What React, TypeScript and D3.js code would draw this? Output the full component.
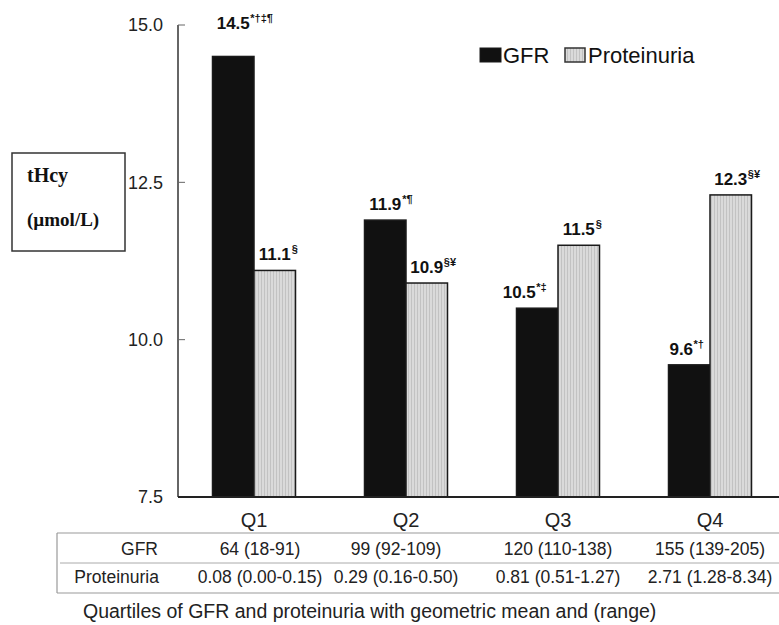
import React from 'react';
import * as d3 from 'd3';

// quartile groups and the two series (tHcy, µmol/L)
const quartiles = ['Q1', 'Q2', 'Q3', 'Q4'];
const seriesNames = ['GFR', 'Proteinuria'];
const gfrValues = [14.5, 11.9, 10.5, 9.6];
const protValues = [11.1, 10.9, 11.5, 12.3];
const gfrMarks = ['*†‡¶', '*¶', '*‡', '*†'];
const protMarks = ['§', '§¥', '§', '§¥'];

// table under the axis
const gfrRanges = ['64 (18-91)', '99 (92-109)', '120 (110-138)', '155 (139-205)'];
const protRanges = ['0.08 (0.00-0.15)', '0.29 (0.16-0.50)', '0.81 (0.51-1.27)', '2.71 (1.28-8.34)'];

const yTicks = [7.5, 10.0, 12.5, 15.0];

const SANS = '"Liberation Sans", Arial, sans-serif';
const SERIF = '"Liberation Serif", "Times New Roman", serif';

export default function App() {
    const width = 779;
    const height = 625;

    const y = d3.scaleLinear().domain([7.5, 15]).range([497, 25]);
    const x = d3.scaleBand().domain(quartiles).range([178, 786]).paddingInner(0);
    const xInner = d3.scaleBand().domain(seriesNames).range([34.5, 117.5]);

    const bars = quartiles.flatMap((q, i) => [
        { q, s: 'GFR', v: gfrValues[i], mark: gfrMarks[i] },
        { q, s: 'Proteinuria', v: protValues[i], mark: protMarks[i] },
    ]);

    // rough width of a bold 17px number, so the superscript can follow it
    const numWidth = (t: string) => t.split('').reduce((w, c) => w + (c === '.' ? 4.7 : 9.45), 0);

    const y0 = y(7.5);
    const yTop = y(15);

    return (
        <svg width={width} height={height} style={{ position: 'absolute', left: 0, top: 0, background: 'white' }}>
            <defs>
                <pattern id="stripes" width="3" height="4" patternUnits="userSpaceOnUse">
                    <rect width="3" height="4" fill="#dadada" />
                    <line x1="0.5" y1="0" x2="0.5" y2="4" stroke="#c2c2c2" strokeWidth="1" />
                </pattern>
            </defs>

            {/* y axis label box */}
            <rect x={12} y={153} width={113} height={98} fill="white" stroke="#333" strokeWidth={1.5} />
            <text x={27} y={182} fontFamily={SERIF} fontWeight="bold" fontSize={20} fill="#111">tHcy</text>
            <text x={27} y={226} fontFamily={SERIF} fontWeight="bold" fontSize={19} fill="#111">(µmol/L)</text>

            {/* y axis */}
            <line x1={178} y1={yTop} x2={178} y2={y0} stroke="#333" strokeWidth={1.5} />
            {yTicks.map(t => (
                <g key={t}>
                    <line x1={178} x2={185} y1={y(t)} y2={y(t)} stroke="#666" strokeWidth={1} />
                    <text x={163} y={y(t)} dy="0.35em" textAnchor="end" fontFamily={SANS} fontSize={18} fill="#222">
                        {t.toFixed(1)}
                    </text>
                </g>
            ))}

            {/* bars */}
            {bars.map(b => {
                const bx = (x(b.q) as number) + (xInner(b.s) as number);
                const bw = xInner.bandwidth();
                return (
                    <rect key={b.q + b.s} x={bx} y={y(b.v)} width={bw} height={y0 - y(b.v)}
                        fill={b.s === 'GFR' ? '#111' : 'url(#stripes)'} stroke="#1a1a1a" strokeWidth={1.5} />
                );
            })}

            {/* value labels */}
            {bars.map(b => {
                const cx = (x(b.q) as number) + (xInner(b.s) as number) + xInner.bandwidth() / 2;
                const t = b.v.toFixed(1);
                const ly = b.v > 14 ? yTop + 4 : y(b.v) - 10;
                const half = numWidth(t) / 2;
                // GFR labels in the upper quartiles sit a little left of their bars
                const shift = b.s === 'GFR' && b.q === 'Q3' ? -18 : b.s === 'GFR' && b.q === 'Q4' ? -8 : 0;
                return (
                    <g key={'l' + b.q + b.s} fontFamily={SANS} fontWeight="bold" fill="#111">
                        <text x={cx + shift} y={ly} textAnchor="middle" fontSize={17}>{t}</text>
                        <text x={cx + shift + half + 0.5} y={ly - 7} fontSize={11}>{b.mark}</text>
                    </g>
                );
            })}

            {/* x axis baseline */}
            <line x1={178} x2={779} y1={y0} y2={y0} stroke="#222" strokeWidth={2} />
            {quartiles.map(q => (
                <text key={q} x={(x(q) as number) + x.bandwidth() / 2} y={527} textAnchor="middle"
                    fontFamily={SANS} fontSize={20} fill="#222">{q}</text>
            ))}

            {/* legend */}
            <rect x={480} y={48} width={21} height={14} fill="#111" stroke="#1a1a1a" strokeWidth={1} />
            <text x={503} y={63} fontFamily={SANS} fontSize={22} fill="#111">GFR</text>
            <rect x={565} y={48} width={20} height={14} fill="url(#stripes)" stroke="#333" strokeWidth={1.5} />
            <text x={588} y={63} fontFamily={SANS} fontSize={22} fill="#111">Proteinuria</text>

            {/* table */}
            <line x1={57} x2={779} y1={533} y2={533} stroke="#999" strokeWidth={1.2} />
            <line x1={60} x2={779} y1={563} y2={563} stroke="#aaa" strokeWidth={1} />
            <line x1={57} x2={779} y1={593} y2={593} stroke="#999" strokeWidth={1.2} />
            <line x1={57} x2={57} y1={533} y2={593} stroke="#999" strokeWidth={1.2} />
            <g fontFamily={SANS} fontSize={17.5} fill="#222">
                <text x={158} y={555} textAnchor="end">GFR</text>
                <text x={159} y={583} textAnchor="end">Proteinuria</text>
                {quartiles.map((q, i) => (
                    <g key={'t' + q}>
                        <text x={(x(q) as number) + x.bandwidth() / 2 + (i === 0 ? 6 : i === 1 ? -10 : 0)} y={555} textAnchor="middle">{gfrRanges[i]}</text>
                        <text x={(x(q) as number) + x.bandwidth() / 2 + (i === 0 ? 6 : i === 1 ? -10 : 0)} y={583} textAnchor="middle">{protRanges[i]}</text>
                    </g>
                ))}
            </g>

            {/* caption */}
            <text x={83} y={618} fontFamily={SANS} fontSize={19.5} fill="#222">
                Quartiles of GFR and proteinuria with geometric mean and (range)
            </text>
        </svg>
    );
}
